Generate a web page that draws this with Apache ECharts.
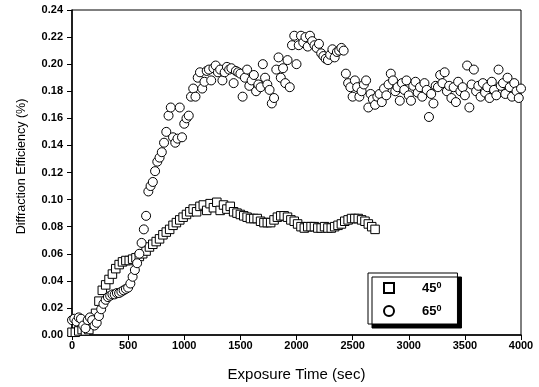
<!DOCTYPE html>
<html>
<head>
<meta charset="utf-8">
<script src="https://cdn.jsdelivr.net/npm/echarts@6/dist/echarts.min.js"></script>
<style>html,body{margin:0;padding:0;background:#fff}#c{width:539px;height:387px}</style>
</head>
<body>
<div id="c"></div>
<script>
// ---- data ----
var xTicks = [0, 500, 1000, 1500, 2000, 2500, 3000, 3500, 4000];
var yTicks = [0.00, 0.02, 0.04, 0.06, 0.08, 0.10, 0.12, 0.14, 0.16, 0.18, 0.20, 0.22, 0.24];
var seriesNames = ['45', '65'];

var sqX = [0,30,60,90,120,150,180,210,240,270,300,330,360,390,420,450,480,510,540,570,600,630,660,690,720,750,780,810,840,870,900,930,960,990,1020,1050,1080,1110,1140,1170,1200,1230,1260,1290,1320,1350,1380,1410,1440,1470,1500,1530,1560,1590,1620,1650,1680,1710,1740,1770,1800,1830,1860,1890,1920,1950,1980,2010,2040,2070,2100,2130,2160,2190,2220,2250,2280,2310,2340,2370,2400,2430,2460,2490,2520,2550,2580,2610,2640,2670,2700];
var sqY = [0.002,0.002,0.003,0.004,0.003,0.004,0.008,0.016,0.025,0.033,0.037,0.041,0.045,0.049,0.052,0.054,0.055,0.055,0.056,0.057,0.058,0.060,0.062,0.065,0.067,0.069,0.071,0.074,0.076,0.078,0.081,0.083,0.085,0.087,0.089,0.091,0.093,0.091,0.095,0.096,0.092,0.097,0.094,0.098,0.092,0.096,0.093,0.095,0.091,0.090,0.089,0.088,0.087,0.086,0.086,0.086,0.084,0.083,0.083,0.083,0.085,0.087,0.088,0.088,0.087,0.085,0.084,0.082,0.080,0.079,0.080,0.080,0.080,0.079,0.079,0.080,0.079,0.079,0.080,0.081,0.082,0.084,0.085,0.086,0.086,0.086,0.085,0.084,0.082,0.080,0.078];

var ciX = [0,20,40,60,80,100,120,140,160,180,200,220,240,260,280,300,320,340,360,380,400,420,440,460,480,500,520,540,560,580,600,620,640,660,680,700,720,740,760,780,800,820,840,860,880,900,920,940,960,980,1000,1020,1040,1060,1080,1100,1120,1140,1160,1180,1200,1220,1240,1260,1280,1300,1320,1340,1360,1380,1400,1420,1440,1460,1480,1500,1520,1540,1560,1580,1600,1620,1640,1660,1680,1700,1720,1740,1760,1780,1800,1820,1840,1860,1880,1900,1920,1940,1960,1980,2000,2020,2040,2060,2080,2100,2120,2140,2160,2180,2200,2220,2240,2260,2280,2300,2320,2340,2360,2380,2400,2420,2440,2460,2480,2500,2520,2540,2560,2580,2600,2620,2640,2660,2680,2700,2720,2740,2760,2780,2800,2820,2840,2860,2880,2900,2920,2940,2960,2980,3000,3020,3040,3060,3080,3100,3120,3140,3160,3180,3200,3220,3240,3260,3280,3300,3320,3340,3360,3380,3400,3420,3440,3460,3480,3500,3520,3540,3560,3580,3600,3620,3640,3660,3680,3700,3720,3740,3760,3780,3800,3820,3840,3860,3880,3900,3920,3940,3960,3980,4000];
var ciY = [0.011,0.012,0.010,0.013,0.012,0.007,0.005,0.011,0.013,0.011,0.007,0.009,0.014,0.019,0.023,0.026,0.028,0.029,0.030,0.030,0.031,0.031,0.032,0.033,0.034,0.035,0.038,0.043,0.048,0.053,0.060,0.068,0.078,0.088,0.106,0.110,0.113,0.121,0.128,0.131,0.135,0.142,0.150,0.162,0.168,0.146,0.142,0.145,0.168,0.146,0.156,0.160,0.162,0.176,0.182,0.176,0.190,0.194,0.182,0.187,0.195,0.196,0.188,0.197,0.199,0.194,0.196,0.188,0.194,0.198,0.196,0.197,0.186,0.195,0.194,0.193,0.176,0.190,0.196,0.184,0.188,0.192,0.180,0.185,0.183,0.200,0.190,0.185,0.181,0.171,0.175,0.196,0.205,0.190,0.197,0.186,0.203,0.183,0.214,0.221,0.200,0.214,0.221,0.216,0.220,0.213,0.221,0.217,0.214,0.212,0.215,0.208,0.206,0.204,0.203,0.207,0.211,0.205,0.209,0.210,0.212,0.210,0.193,0.186,0.183,0.176,0.188,0.183,0.176,0.180,0.185,0.188,0.168,0.178,0.174,0.170,0.176,0.178,0.172,0.182,0.177,0.185,0.193,0.188,0.180,0.183,0.173,0.186,0.181,0.188,0.177,0.173,0.184,0.187,0.179,0.183,0.176,0.186,0.181,0.161,0.178,0.171,0.184,0.183,0.192,0.186,0.194,0.180,0.184,0.175,0.183,0.172,0.187,0.180,0.183,0.177,0.199,0.168,0.185,0.196,0.180,0.184,0.176,0.186,0.179,0.183,0.175,0.187,0.181,0.177,0.196,0.184,0.186,0.178,0.190,0.183,0.176,0.186,0.180,0.175,0.182];

function pairs(xs, ys) { return xs.map(function (x, i) { return [x, ys[i]]; }); }

var chart = echarts.init(document.getElementById('c'), null, {renderer: 'canvas'});
var FONT = '"Liberation Sans", Arial, sans-serif';
var symStyle = {color: '#fff', borderColor: '#000', borderWidth: 1, opacity: 1};

chart.setOption({
  animation: false,
  backgroundColor: '#fff',
  grid: {left: 72, right: 18, top: 10, bottom: 52, show: true, borderColor: '#000', borderWidth: 1, backgroundColor: 'transparent'},
  xAxis: {
    type: 'value', min: xTicks[0], max: xTicks[xTicks.length - 1], interval: 500,
    name: 'Exposure Time (sec)', nameLocation: 'middle', nameGap: 32,
    nameTextStyle: {fontFamily: FONT, fontSize: 15, color: '#000'},
    axisLine: {lineStyle: {color: '#000', width: 1.5}},
    axisTick: {inside: false, length: 5, lineStyle: {color: '#000', width: 1}},
    axisLabel: {fontFamily: FONT, fontSize: 11, fontWeight: 'bold', color: '#000', margin: 5,
      formatter: function (v) { return String(v); }},
    splitLine: {show: false}
  },
  yAxis: {
    type: 'value', min: yTicks[0], max: yTicks[yTicks.length - 1], interval: 0.02,
    name: 'Diffraction Efficiency (%)', nameLocation: 'middle', nameGap: 44,
    nameTextStyle: {fontFamily: FONT, fontSize: 12.5, color: '#000', padding: [0, 0, 0, 12]},
    axisLine: {lineStyle: {color: '#000', width: 1.5}},
    axisTick: {inside: false, length: 5, lineStyle: {color: '#000', width: 1}},
    axisLabel: {fontFamily: FONT, fontSize: 11, fontWeight: 'bold', color: '#000', margin: 9,
      formatter: function (v) { return v.toFixed(2); }},
    splitLine: {show: false}
  },
  legend: {
    orient: 'vertical', left: 368, top: 273,
    padding: [8, 16, 5, 15], itemGap: 8, itemWidth: 10, itemHeight: 10,
    backgroundColor: '#fff', borderColor: '#000', borderWidth: 1,
    shadowColor: '#000', shadowOffsetX: 4, shadowOffsetY: 4, shadowBlur: 0,
    data: [
      {name: seriesNames[0], icon: 'rect'},
      {name: seriesNames[1], icon: 'circle'}
    ],
    formatter: function (n) { return '{a|' + n + '}{s|0}'; },
    textStyle: {
      color: '#000',
      rich: {
        a: {fontFamily: FONT, fontSize: 13, fontWeight: 'bold', color: '#000', padding: [0, 0, 0, 23], lineHeight: 14},
        s: {fontFamily: FONT, fontSize: 9, fontWeight: 'bold', color: '#000', verticalAlign: 'top', lineHeight: 10, padding: [0, 0, 6, 0]}
      }
    }
  },
  series: [
    {name: seriesNames[0], type: 'scatter', symbol: 'rect', symbolSize: 8.5,
      data: pairs(sqX, sqY), itemStyle: symStyle, emphasis: {disabled: true}},
    {name: seriesNames[1], type: 'scatter', symbol: 'circle', symbolSize: 9,
      data: pairs(ciX, ciY), itemStyle: symStyle, emphasis: {disabled: true}}
  ]
});
</script>
</body>
</html>
